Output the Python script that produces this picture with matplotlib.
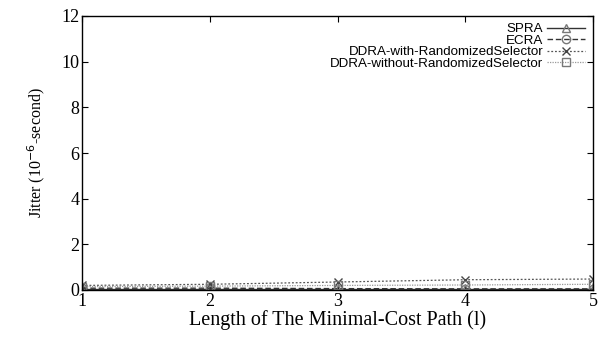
import matplotlib
matplotlib.use("Agg")
import matplotlib.pyplot as plt

# path length and jitter of each scheme (10^-6 s)
path_len = [1, 2, 3, 4, 5]
spra = [0.05, 0.05, 0.05, 0.05, 0.05]
ecra = [0.08, 0.08, 0.06, 0.05, 0.05]
ddra_rand = [0.2, 0.25, 0.35, 0.45, 0.48]
ddra_norand = [0.15, 0.17, 0.2, 0.22, 0.25]

serif = "Liberation Serif"
sans = "Liberation Sans"

fig = plt.figure(figsize=(6, 3.39), dpi=100)
ax = fig.add_axes([82/600, 1-290/339, (593-82)/600, (290-16)/339])

ax.plot(path_len, spra, color="#333333", lw=1.0, ls="-", marker="^",
        mfc="none", mec="#777777", ms=6, label="SPRA")
ax.plot(path_len, ecra, color="#333333", lw=1.0, ls=(0, (4, 2)), marker="o",
        mfc="none", mec="#777777", ms=6, label="ECRA")
ax.plot(path_len, ddra_rand, color="#555555", lw=0.9, ls=(0, (1.5, 1.5)), marker="x",
        mec="#444444", ms=6, label="DDRA-with-RandomizedSelector")
ax.plot(path_len, ddra_norand, color="#999999", lw=0.9, ls=(0, (1, 1)), marker="s",
        mfc="none", mec="#777777", ms=6, label="DDRA-without-RandomizedSelector")

ax.set_xlim(1, 5)
ax.set_ylim(0, 12)
ax.set_xticks(path_len)
ax.set_yticks(range(0, 13, 2))
ax.tick_params(direction="in", top=True, right=True, length=4, width=0.8, pad=2)
for lab in ax.get_xticklabels() + ax.get_yticklabels():
    lab.set_family(serif)
    lab.set_fontsize(13)
for s in ax.spines.values():
    s.set_linewidth(1.0)

ax.set_ylabel("Jitter (10$^{-6}$-second)", family=serif, fontsize=11.5, labelpad=10)
ax.set_xlabel("Length of The Minimal-Cost Path (l)", family=serif, fontsize=14.5, labelpad=0)

leg = ax.legend(loc="upper right", bbox_to_anchor=(0.997, 1.0), markerfirst=False,
                frameon=False, prop={"family": sans, "size": 9.6}, handlelength=2.8,
                labelspacing=-0.06, borderaxespad=0.12, handletextpad=0.3)
for t in leg.get_texts():
    t.set_ha("right")
leg._legend_box.align = "right"

fig.savefig("out.png", dpi=100)
